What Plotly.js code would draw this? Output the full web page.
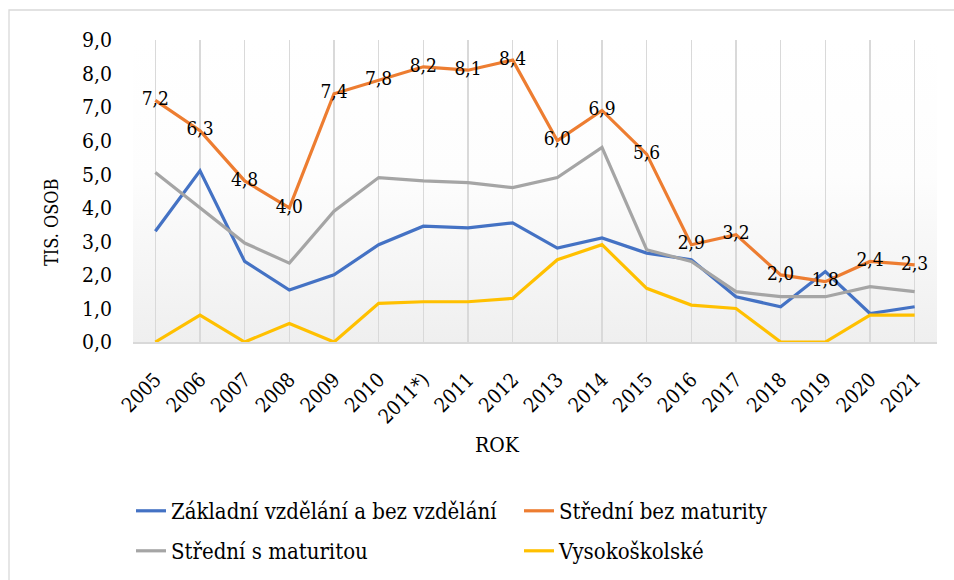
<!DOCTYPE html>
<html>
<head>
<meta charset="utf-8">
<script src="https://cdn.plot.ly/plotly-3.0.1.min.js"></script>
<style>
  html, body { margin: 0; padding: 0; background: #ffffff; }
  #chart { width: 954px; height: 580px; }
</style>
</head>
<body>
<div id="chart"></div>
<script>
// ---- data ----
const years = ["2005","2006","2007","2008","2009","2010","2011*)","2011","2012","2013","2014","2015","2016","2017","2018","2019","2020","2021"];
const zakladni = [3.3, 5.1, 2.4, 1.55, 2.0, 2.9, 3.45, 3.4, 3.55, 2.8, 3.1, 2.65, 2.45, 1.35, 1.05, 2.1, 0.85, 1.05];
const stredniBez = [7.2, 6.3, 4.8, 4.0, 7.4, 7.8, 8.2, 8.1, 8.4, 6.0, 6.9, 5.6, 2.9, 3.2, 2.0, 1.8, 2.4, 2.3];
const stredniMat = [5.05, 4.0, 2.95, 2.35, 3.9, 4.9, 4.8, 4.75, 4.6, 4.9, 5.8, 2.75, 2.4, 1.5, 1.35, 1.35, 1.65, 1.5];
const vysoko = [0.0, 0.8, 0.0, 0.55, 0.0, 1.15, 1.2, 1.2, 1.3, 2.45, 2.9, 1.6, 1.1, 1.0, 0.0, 0.0, 0.8, 0.8];
const seriesNames = ["Základní vzdělání a bez vzdělání", "Střední bez maturity", "Střední s maturitou", "Vysokoškolské"];
const yTickVals = [0,1,2,3,4,5,6,7,8,9];
const yTickText = ["0,0","1,0","2,0","3,0","4,0","5,0","6,0","7,0","8,0","9,0"];
const xTitle = "ROK";
const yTitle = "TIS. OSOB";

const fontFam = 'DejaVu Serif Condensed, DejaVu Serif';
const colors = ["#4472C4", "#ED7D31", "#A5A5A5", "#FFC000"];
const labelText = stredniBez.map(v => v.toFixed(1).replace('.', ','));

function lineTrace(y, name, color, legendId, extra) {
  return Object.assign({
    type: 'scatter', mode: 'lines', x: years, y: y, name: name, legend: legendId,
    line: { color: color, width: 3.2 }, cliponaxis: false, hoverinfo: 'skip'
  }, extra || {});
}

const traces = [
  lineTrace(zakladni, seriesNames[0], colors[0], 'legend'),
  lineTrace(stredniBez, seriesNames[1], colors[1], 'legend', {
    mode: 'lines+text', text: labelText, textposition: 'middle center',
    textfont: { family: fontFam, size: 19, color: '#000000' }
  }),
  lineTrace(stredniMat, seriesNames[2], colors[2], 'legend2'),
  lineTrace(vysoko, seriesNames[3], colors[3], 'legend2')
];

const gradSvg = '<svg xmlns="http://www.w3.org/2000/svg" width="100" height="100" preserveAspectRatio="none">' +
  '<defs><linearGradient id="g" x1="0" y1="0" x2="0" y2="1">' +
  '<stop offset="0" stop-color="#ffffff"/><stop offset="0.45" stop-color="#fdfdfd"/><stop offset="1" stop-color="#efefef"/>' +
  '</linearGradient></defs><rect width="100" height="100" fill="url(#g)"/></svg>';
const gradUri = 'data:image/svg+xml;base64,' + btoa(gradSvg);

const legendBase = {
  orientation: 'h', xanchor: 'left', yanchor: 'top',
  x: (131 - 133) / 804,
  entrywidth: 343, entrywidthmode: 'pixels',
  font: { family: fontFam, size: 22, color: '#000000' },
  bgcolor: 'rgba(0,0,0,0)', traceorder: 'normal'
};

const layout = {
  width: 954, height: 580,
  margin: { l: 133, r: 17, t: 40, b: 238, autoexpand: false },
  paper_bgcolor: '#ffffff',
  plot_bgcolor: 'rgba(0,0,0,0)',
  font: { family: fontFam, color: '#000000' },
  showlegend: true,
  xaxis: {
    type: 'category', range: [-0.5, 17.5],
    showgrid: true, gridcolor: '#d9d9d9', gridwidth: 1.3,
    showline: true, linecolor: '#d9d9d9', linewidth: 2,
    ticks: '', tickangle: -45, ticklabelstandoff: 16,
    tickfont: { family: fontFam, size: 20, color: '#000000' },
    zeroline: false, fixedrange: true
  },
  yaxis: {
    range: [0, 9], tickvals: yTickVals, ticktext: yTickText,
    showgrid: false, zeroline: false, showline: false, ticks: '',
    ticklabelstandoff: 20,
    tickfont: { family: fontFam, size: 21, color: '#000000' },
    fixedrange: true
  },
  legend: Object.assign({}, legendBase, { y: (342 - 490) / 302 }),
  legend2: Object.assign({}, legendBase, { y: (342 - 530) / 302 }),
  images: [{
    source: gradUri, xref: 'paper', yref: 'paper', x: 0, y: 1, sizex: 1, sizey: 1,
    xanchor: 'left', yanchor: 'top', sizing: 'stretch', layer: 'below'
  }],
  shapes: [{
    type: 'rect', xref: 'paper', yref: 'paper',
    x0: (9 - 133) / 804, x1: (970 - 133) / 804,
    y0: (342 - 600) / 302, y1: (342 - 10) / 302,
    line: { color: '#d9d9d9', width: 1.3 }, fillcolor: 'rgba(0,0,0,0)', layer: 'below'
  }],
  annotations: [
    { text: yTitle, xref: 'paper', yref: 'paper', x: (51 - 133) / 804, y: (342 - 222) / 302,
      xanchor: 'center', yanchor: 'middle', textangle: -90, showarrow: false,
      font: { family: fontFam, size: 18, color: '#000000' } },
    { text: xTitle, xref: 'paper', yref: 'paper', x: (497 - 133) / 804, y: (342 - 445) / 302,
      xanchor: 'center', yanchor: 'middle', showarrow: false,
      font: { family: fontFam, size: 21, color: '#000000' } }
  ]
};

Plotly.newPlot('chart', traces, layout, { displayModeBar: false, staticPlot: true });
</script>
</body>
</html>
